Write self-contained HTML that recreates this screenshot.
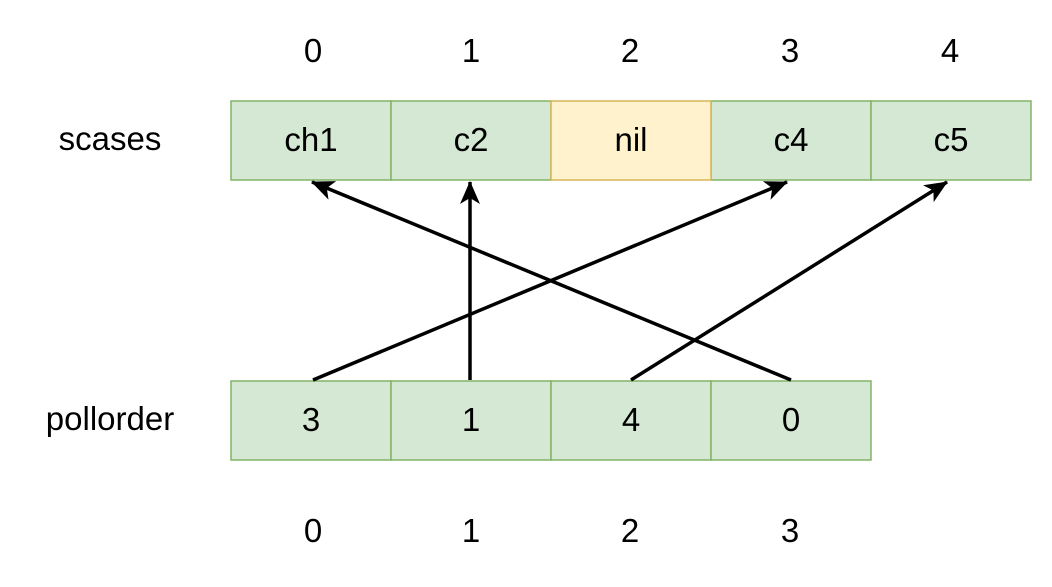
<!DOCTYPE html>
<html><head><style>body{margin:0;background:#fff}</style></head><body>
<svg width="1052" height="582" xmlns="http://www.w3.org/2000/svg" font-family="Liberation Sans, Arial, sans-serif" font-size="33" text-anchor="middle">
<defs><marker id="b" markerWidth="26" markerHeight="26" refX="22" refY="12" orient="auto" markerUnits="userSpaceOnUse"><path d="M0,2 L23,12 L0,22 L6,12 Z" fill="#000"/></marker></defs>
<g fill="#000">
<text x="313" y="62">0</text><text x="471" y="62">1</text><text x="630" y="62">2</text><text x="790" y="62">3</text><text x="950" y="62">4</text>
<text x="110" y="150">scases</text><text x="110" y="430">pollorder</text>
<text x="313" y="542">0</text><text x="471" y="542">1</text><text x="630" y="542">2</text><text x="790" y="542">3</text>
</g>
<g stroke="#82b366" stroke-width="1.5" fill="#d5e8d4">
<rect x="231" y="101" width="160" height="79"/><rect x="391" y="101" width="160" height="79"/>
<rect x="711" y="101" width="160" height="79"/><rect x="871" y="101" width="160" height="79"/>
<rect x="231" y="381" width="160" height="79"/><rect x="391" y="381" width="160" height="79"/>
<rect x="551" y="381" width="160" height="79"/><rect x="711" y="381" width="160" height="79"/>
</g>
<rect x="551" y="101" width="160" height="79" fill="#fff2cc" stroke="#d6b656" stroke-width="1.5"/>
<g fill="#000">
<text x="311" y="151">ch1</text><text x="471" y="151">c2</text><text x="631" y="151">nil</text><text x="791" y="151">c4</text><text x="951" y="151">c5</text>
<text x="311" y="431">3</text><text x="471" y="431">1</text><text x="631" y="431">4</text><text x="791" y="431">0</text>
</g>
<g stroke="#000" stroke-width="3.5" fill="none" marker-end="url(#b)">
<line x1="313" y1="380" x2="787" y2="182"/>
<line x1="470" y1="380" x2="470" y2="182"/>
<line x1="631" y1="380" x2="947" y2="182"/>
<line x1="791" y1="380" x2="312" y2="182"/>
</g>
</svg>
</body></html>
